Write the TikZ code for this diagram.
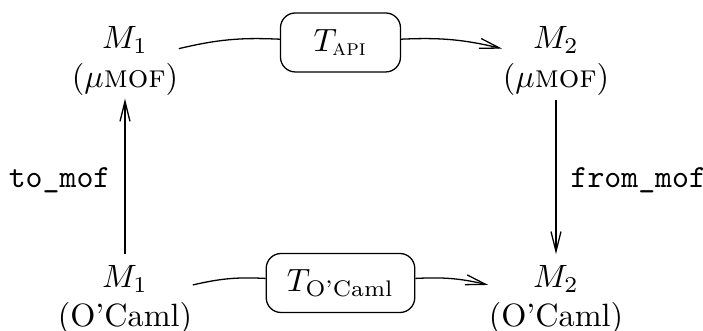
\documentclass[tikz,border=0pt]{standalone}
\usepackage{amsmath}
\usepackage{amssymb}
\usetikzlibrary{calc,positioning,arrows.meta}

\begin{document}
\begin{tikzpicture}[
    >={Straight Barb[length=6.2pt,width=3.1pt]},
    model/.style={align=center, inner xsep=0pt},
    trans/.style={draw, rounded corners=4.6pt, minimum width=1.308cm, minimum height=0.643cm, inner xsep=6.4pt}]
	\useasboundingbox (-1.3625,-2.943) rectangle ++(7.663,3.608);
	\node[model] (m1mof) at (0,0) {$M_1$\\($\mu$\textsc{mof})};
	\node[model] (m2mof) at ($(m1mof)+(4.698,0)$) {$M_2$\\($\mu$\textsc{mof})};
	\node[model, below=2.605cm of m1mof.center, anchor=center] (m1caml) {$M_1$\\(O'Caml)};
	\node[model, below=2.605cm of m2mof.center, anchor=center] (m2caml) {$M_2$\\(O'Caml)};
	\node[trans] (tapi) at ($(m1mof)!0.5!(m2mof)+(0,0.202)$) {$T_{\text{\textsc{api}}}$};
	\node[trans] (tcaml) at ($(m1caml)!0.5!(m2caml)+(0,0.185)$) {$T_{\text{O'Caml}}$};
	%
	\draw (m1mof) to[bend left=8] (tapi);
	\draw[->] (tapi) to[bend left=8] (m2mof);
	\draw (m1caml) to[bend left=8] (tcaml);
	\draw[->] (tcaml) to[bend left=8] (m2caml);
	\draw[->, shorten >=-2.5pt] (m1caml) -- node[left=1pt] {\texttt{to\_mof}} (m1mof);
	\draw[->, shorten <=-2pt] (m2mof) -- node[right=1pt] {\texttt{from\_mof}} (m2caml);
\end{tikzpicture}
\end{document}
